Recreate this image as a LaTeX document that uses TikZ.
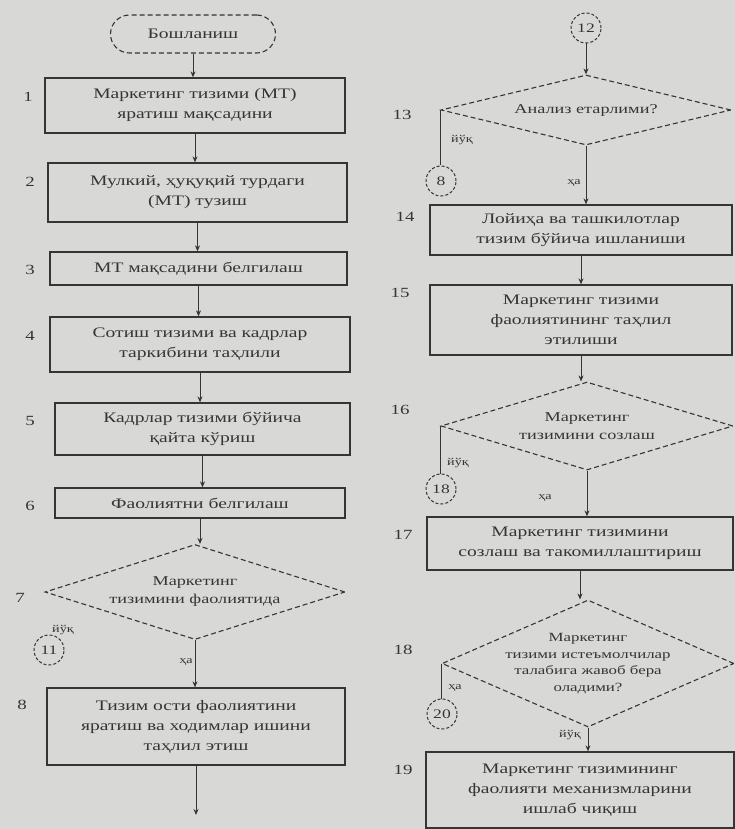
\documentclass[tikz,border=0pt]{standalone}
\usepackage{fontspec}
\setmainfont{Liberation Serif}[FakeStretch=1.35]
\usetikzlibrary{arrows.meta,shapes.geometric}
\definecolor{Paper}{HTML}{D8D8D6}
\definecolor{Ink}{HTML}{353535}
\tikzset{
  stepbox/.style={draw=Ink, line width=1.3pt, align=center, inner sep=2pt,
                  text=Ink, font=\fontsize{14.5}{20}\selectfont},
  choice/.style={diamond, draw=Ink, dash pattern=on 5pt off 3pt, line width=1.1pt,
                 inner sep=0pt},
  asks/.style={align=center, text=Ink, font=\fontsize{13.5}{18}\selectfont},
  jump/.style={circle, draw=Ink, dash pattern=on 3pt off 2pt, line width=1pt,
               minimum size=30pt, inner sep=0pt, text=Ink, font=\fontsize{13}{14}\selectfont},
  flow/.style={-{Stealth[length=6pt,width=5pt]}, line width=1pt, Ink},
  stepno/.style={text=Ink, font=\fontsize{14}{15}\selectfont},
  answer/.style={text=Ink, font=\fontsize{10.5}{12}\selectfont},
}
\begin{document}
\begin{tikzpicture}[x=1pt, y=-1pt]
  \fill[Paper] (0,0) rectangle (735,829);
  \useasboundingbox (0,0) rectangle (735,829);

  % left column
  \node[draw=Ink, dash pattern=on 5pt off 3pt, line width=1.1pt, rounded corners=19pt,
        minimum width=165pt, minimum height=38pt, text=Ink,
        font=\fontsize{14.5}{16}\selectfont] (start) at (193,34) {Бошланиш};
  \node[stepbox, minimum width=300pt, minimum height=55pt] (s1) at (195,105.5)
    {Маркетинг тизими (МТ)\\ яратиш мақсадини};
  \node[stepbox, minimum width=299pt, minimum height=59pt] (s2) at (197.5,192.5)
    {Мулкий, ҳуқуқий турдаги\\ (МТ) тузиш};
  \node[stepbox, minimum width=297pt, minimum height=33pt] (s3) at (198.5,268.5)
    {МТ мақсадини белгилаш};
  \node[stepbox, minimum width=300pt, minimum height=55pt] (s4) at (200,344.5)
    {Сотиш тизими ва кадрлар\\ таркибини таҳлили};
  \node[stepbox, minimum width=295pt, minimum height=52pt] (s5) at (202.5,429)
    {Кадрлар тизими бўйича\\ қайта кўриш};
  \node[stepbox, minimum width=290pt, minimum height=30pt] (s6) at (200,503)
    {Фаолиятни белгилаш};
  \node[choice, minimum width=300pt, minimum height=95pt] (d7) at (195,592) {};
  \node[asks] (t7) at (d7) {Маркетинг\\ тизимини фаолиятида};
  \node[jump] (c11) at (49,650) {11};
  \node[stepbox, minimum width=298pt, minimum height=77pt] (s8) at (196,726.5)
    {Тизим ости фаолиятини\\ яратиш ва ходимлар ишини\\ таҳлил этиш};
  \coordinate (out8) at (198,815);

  \node[stepno] at (28,97) {1};
  \node[stepno] at (30,182) {2};
  \node[stepno] at (30,270) {3};
  \node[stepno] at (30,336) {4};
  \node[stepno] at (30,421) {5};
  \node[stepno] at (30,506) {6};
  \node[stepno] at (20,598) {7};
  \node[stepno] at (22,705) {8};
  \node[answer] at (63,630) {йўқ};
  \node[answer] at (186,662) {ҳа};

  \draw[flow] (start.south) -- (start.south |- s1.north);
  \draw[flow] (s1.south) -- (s1.south |- s2.north);
  \draw[flow] (s2.south) -- (s2.south |- s3.north);
  \draw[flow] (s3.south) -- (s3.south |- s4.north);
  \draw[flow] (s4.south) -- (s4.south |- s5.north);
  \draw[flow] (s5.south) -- (s5.south |- s6.north);
  \draw[flow] (s6.south) -- (s6.south |- d7.north);
  \draw[flow] (d7.south) -- (d7.south |- s8.north);
  \draw[flow] (s8.south) -- (s8.south |- out8);

  % right column
  \node[jump] (c12) at (586,28) {12};
  \node[choice, minimum width=290pt, minimum height=70pt] (d13) at (586,110) {};
  \node[asks] (t13) at (d13) {Анализ етарлими?};
  \node[jump] (c8) at (441,181) {8};
  \node[stepbox, minimum width=302pt, minimum height=50pt] (s14) at (581,230)
    {Лойиҳа ва ташкилотлар\\ тизим бўйича ишланиши};
  \node[stepbox, minimum width=302pt, minimum height=70pt] (s15) at (581,320)
    {Маркетинг тизими\\ фаолиятининг таҳлил\\ этилиши};
  \node[choice, minimum width=292pt, minimum height=88pt] (d16) at (587,426) {};
  \node[asks] (t16) at (d16) {Маркетинг\\ тизимини созлаш};
  \node[jump] (c18) at (441,489) {18};
  \node[stepbox, minimum width=306pt, minimum height=53pt] (s17) at (580,543.5)
    {Маркетинг тизимини\\ созлаш ва такомиллаштириш};
  \node[choice, minimum width=292pt, minimum height=127pt] (d18) at (588,663.5) {};
  \node[asks, font=\fontsize{12.5}{16.5}\selectfont] (t18) at (d18)
    {Маркетинг\\ тизими истеъмолчилар\\ талабига жавоб бера\\ оладими?};
  \node[jump] (c20) at (442,714) {20};
  \node[stepbox, minimum width=308pt, minimum height=76pt] (s19) at (580,790)
    {Маркетинг тизимининг\\ фаолияти механизмларини\\ ишлаб чиқиш};

  \node[stepno] at (402,115) {13};
  \node[stepno] at (405,217) {14};
  \node[stepno] at (400,293) {15};
  \node[stepno] at (400,410) {16};
  \node[stepno] at (403,535) {17};
  \node[stepno] at (403,650) {18};
  \node[stepno] at (403,770) {19};
  \node[answer] at (462,140) {йўқ};
  \node[answer] at (574,183) {ҳа};
  \node[answer] at (458,463) {йўқ};
  \node[answer] at (545,498) {ҳа};
  \node[answer] at (455,688) {ҳа};
  \node[answer] at (570,735) {йўқ};

  \draw[flow] (c12.south) -- (c12.south |- d13.north);
  \draw[line width=1.2pt, Ink] (d13.west) -- (d13.west |- c8.north);
  \draw[flow] (d13.south) -- (d13.south |- s14.north);
  \draw[flow] (s14.south) -- (s14.south |- s15.north);
  \draw[flow] (s15.south) -- (s15.south |- d16.north);
  \draw[line width=0.6pt, Ink] (d16.west) -- (d16.west |- c18.north);
  \draw[flow] (d16.south) -- (d16.south |- s17.north);
  \draw[flow] (s17.south) -- (s17.south |- d18.north);
  \draw[line width=1pt, Ink] (d18.west) -- (d18.west |- c20.north);
  \draw[flow] (d18.south) -- (d18.south |- s19.north);
\end{tikzpicture}
\end{document}
